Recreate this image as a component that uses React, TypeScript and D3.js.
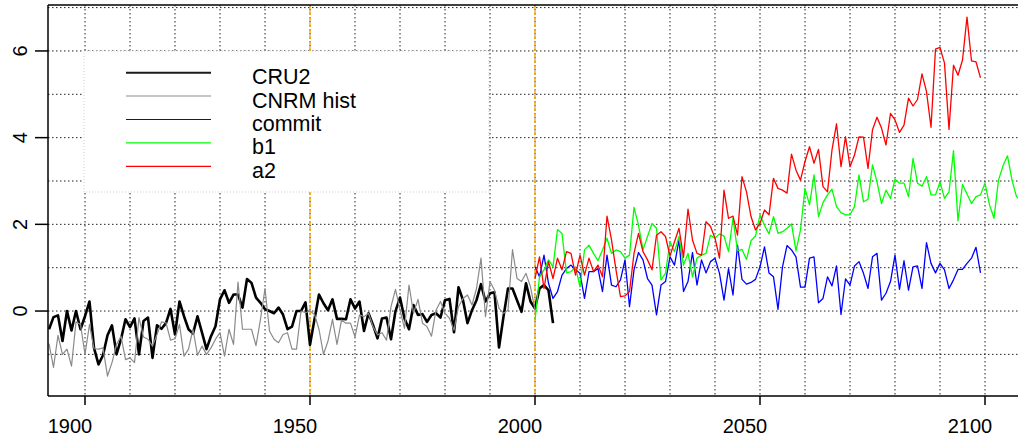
import React from 'react';
import * as d3 from 'd3';

// observed and simulated temperature anomalies, one value per year
const cru2Start = 1892;
const cru2 = [
  -0.42, -0.14, -0.1, -0.69, 0.0, -0.45, 0.0, -0.42, -0.12, 0.22,
  -0.85, -1.23, -1.02, -0.56, -0.33, -1.0, -0.65, -0.19, -0.37, -0.17,
  -1.0, -0.23, -0.15, -1.08, -0.33, -0.41, -0.28, 0.05, -0.54, 0.22,
  -0.12, -0.42, -0.52, -0.12, -0.5, -0.88, -0.58, -0.35, 0.27, 0.48,
  0.19, 0.38, 0.38, 0.08, 0.74, 0.65, 0.31, 0.19, 0.04, 0.0,
  -0.05, 0.08, -0.08, -0.42, -0.36, 0.0, 0.0, 0.2, -0.78, -0.19,
  0.38, 0.18, 0.02, 0.27, -0.18, -0.18, -0.19, 0.27, 0.06, 0.22,
  -0.46, -0.05, -0.32, -0.63, -0.17, -0.15, -0.65, 0.0, 0.31, -0.17,
  -0.42, 0.14, -0.09, -0.07, -0.25, -0.09, -0.05, -0.15, 0.25, 0.28,
  -0.49, 0.55, 0.25, -0.28, 0.02, 0.25, 0.62, 0.22, 0.41, 0.43,
  -0.84, -0.13, 0.52, 0.52, 0.25, -0.02, 0.64, 0.22, 0.06, 0.52,
  0.6, 0.48, -0.28,
];

const cnrmStart = 1892;
const cnrmHist = [
  -0.75, -1.3, -0.56, -1.0, -0.88, -1.27, -0.25, -0.31, -1.0, -0.31,
  -0.87, -0.88, -0.85, -1.5, -1.19, -0.77, -0.58, -1.12, -1.08, -1.19,
  -0.15, -0.6, -0.65, -0.81, -0.54, -0.25, -0.27, -0.67, -0.64, -0.31,
  -1.04, -0.88, -0.42, -1.02, -0.81, -1.0, -0.85, -0.65, -0.5, -1.04,
  -0.42, -0.77, 0.67, -0.42, -0.42, -0.42, -0.8, -0.19, 0.52, -0.46,
  -0.65, -0.73, -0.54, -0.5, -0.88, -0.88, 0.0, -0.04, 0.0, -0.08,
  -0.42, -1.0, -0.69, -0.19, -0.77, -0.21, -0.28, -0.28, -0.6, -0.09,
  -0.13, -0.05, -0.36, -0.55, -0.5, -0.67, 0.1, 0.5, 0.02, -0.4,
  0.6, -0.05, 0.27, -0.28, -0.36, -0.58, 0.02, 0.22, -0.05, -0.17,
  -0.44, 0.1, 0.29, 0.37, 0.14, 0.52, 1.22, -0.13, 0.68, 0.48,
  0.06, -0.05, 0.02, 1.42, 0.75, 0.68, 0.87, 0.56, 0.02,
];

const scenarioStart = 2000;
const commit = [
  1.02, 0.79, 1.29, 0.64, 0.29, 0.45, 0.83, 0.98, 1.06, 0.95,
  0.87, 0.29, 0.91, 0.91, 0.98, 0.45, 1.29, 0.6, 0.56, 0.72,
  1.18, 0.1, 0.95, 1.35, 1.18, 0.75, 0.6, -0.09, 0.6, 0.68,
  1.25, 1.06, 1.64, 0.45, 0.68, 1.35, 0.6, 1.18, 0.88, 1.14,
  1.22, 0.87, 0.25, 0.98, 0.37, 1.52, 0.73, 0.62, 0.66, 0.73,
  1.02, 1.48, 0.88, 0.79, 0.04, 1.02, 1.51, 1.41, 1.25, 0.55,
  0.55, 1.22, 1.25, 0.19, 0.29, 0.79, 0.58, 1.04, -0.08, 0.74,
  0.6, 1.04, 1.14, 0.87, 0.52, 1.25, 1.33, 0.25, 0.41, 0.68,
  1.29, 0.5, 1.16, 0.48, 1.02, 1.04, 0.52, 1.58, 1.1, 0.88,
  1.1, 0.95, 0.52, 0.72, 0.96, 0.96, 1.1, 1.22, 1.47, 0.88,
];

const b1 = [
  -0.21, 0.79, 0.95, 1.18, 1.02, 1.88, 1.79, 0.88, 0.91, 1.02,
  0.56, 1.41, 1.52, 1.33, 1.16, 1.41, 1.68, 1.33, 1.41, 1.37,
  1.22, 1.29, 2.39, 1.98, 1.41, 1.72, 2.02, 1.91, 0.72, 0.87,
  1.6, 1.37, 1.72, 1.06, 1.33, 0.79, 1.22, 1.29, 1.33, 1.75,
  1.68, 1.78, 1.73, 1.37, 2.14, 1.39, 1.42, 1.19, 1.62, 1.73,
  2.22, 1.98, 1.78, 2.18, 1.79, 1.83, 1.91, 2.01, 1.39, 1.87,
  2.83, 2.45, 3.14, 2.18, 2.5, 2.68, 2.81, 2.41, 2.27, 2.22,
  2.22, 2.41, 3.14, 2.52, 2.58, 3.37, 2.98, 2.48, 2.79, 2.6,
  3.04, 2.95, 2.95, 2.64, 3.52, 2.95, 2.88, 3.1, 2.68, 2.68,
  2.98, 2.6, 2.75, 3.7, 2.08, 2.92, 2.7, 2.48, 2.64, 2.68,
  2.95, 2.45, 2.14, 3.02, 3.35, 3.58, 3.02, 2.64, 2.55,
];

const a2 = [
  0.75, 1.25, 0.52, 1.14, 0.75, 1.22, 0.95, 1.37, 1.33, 0.83,
  1.29, 0.83, 1.22, 0.91, 1.06, 0.79, 2.19, 1.64, 0.95, 0.33,
  0.35, 0.45, 1.33, 1.79, 1.37, 1.18, 0.95, 1.75, 1.83, 1.72,
  1.27, 1.6, 1.91, 1.24, 2.35, 1.64, 1.33, 1.29, 2.06, 1.95,
  1.68, 1.22, 2.79, 2.14, 2.19, 1.75, 3.1, 2.75, 2.18, 1.87,
  2.02, 2.33, 2.22, 3.06, 2.83, 2.79, 2.72, 3.62, 3.25, 3.02,
  3.45, 3.79, 3.41, 3.73, 2.87, 2.75, 3.72, 4.32, 3.33, 4.02,
  3.33, 3.6, 4.02, 4.01, 3.29, 4.18, 4.47, 4.22, 3.83, 4.56,
  4.41, 4.12, 4.29, 4.91, 4.73, 4.88, 5.47, 5.06, 4.24, 6.04,
  6.08, 5.72, 4.19, 5.67, 5.44, 5.79, 6.78, 5.77, 5.75, 5.38,
];

const xTicks = [1900, 1950, 2000, 2050, 2100];
const yTicks = [0, 2, 4, 6];
const markerYears = [1950, 2000];

const series = [
  { name: 'CRU2', start: cru2Start, values: cru2, color: '#000000', width: 2.6, legendColor: '#1a1a1a', legendWidth: 2 },
  { name: 'CNRM hist', start: cnrmStart, values: cnrmHist, color: '#8a8a8a', width: 1.2, legendColor: '#b0b0b0', legendWidth: 1.5 },
  { name: 'commit', start: scenarioStart, values: commit, color: '#0000ff', width: 1.3, legendColor: '#0000ff', legendWidth: 1.2 },
  { name: 'b1', start: scenarioStart, values: b1, color: '#00ff00', width: 1.3, legendColor: '#00ff00', legendWidth: 1.2 },
  { name: 'a2', start: scenarioStart, values: a2, color: '#ff0000', width: 1.3, legendColor: '#ff0000', legendWidth: 1.2 },
];

const W = 1018;
const H = 441;
const left = 48, right = 1021, top = 5, bottom = 396;
const font = '"Liberation Sans", Arial, Helvetica, sans-serif';

export default function App() {
  const x = d3.scaleLinear().domain([1892, 2108]).range([left + 1, right]);
  const y = d3.scaleLinear().domain([-1.96, 7.06]).range([bottom, top]);

  const line = d3.line<[number, number]>()
    .x(d => x(d[0]))
    .y(d => y(d[1]));

  const gridX = d3.range(1900, 2101, 10);
  const gridY = d3.range(-1, 8, 1);

  // legend layout
  const lg = { x0: 84, y0: 51, w: 405, h: 141, lineX1: 126, lineX2: 211, textX: 252, firstY: 72.7, step: 23.4 };

  return (
    <svg width={W} height={H} style={{ position: 'absolute', left: 0, top: 0, background: '#fff' }}>
      <defs>
        <clipPath id="plot">
          <rect x={left} y={top} width={right - left} height={bottom - top} />
        </clipPath>
      </defs>

      <g stroke="#222" strokeWidth={1} strokeDasharray="1.5,2.5">
        {gridX.map(g => (
          <line key={'gx' + g} x1={x(g)} x2={x(g)} y1={top} y2={bottom} />
        ))}
        {gridY.map(g => (
          <line key={'gy' + g} x1={left} x2={right} y1={y(g)} y2={y(g)} />
        ))}
      </g>

      <g stroke="#ffa500" strokeWidth={1.4} strokeDasharray="4,2">
        {markerYears.map(m => (
          <line key={'m' + m} x1={x(m)} x2={x(m)} y1={top} y2={bottom} />
        ))}
      </g>

      <g clipPath="url(#plot)" fill="none" strokeLinejoin="round">
        {series.map(s => (
          <path
            key={s.name}
            d={line(s.values.map((v, i) => [s.start + i, v] as [number, number])) || ''}
            stroke={s.color}
            strokeWidth={s.width}
          />
        ))}
      </g>

      <rect x={lg.x0} y={lg.y0} width={lg.w} height={lg.h} fill="#fff" stroke="#cfcfcf" strokeWidth={1} strokeDasharray="1,2" />
      {series.map((s, i) => {
        const ly = lg.firstY + i * lg.step;
        return (
          <g key={'lg' + s.name}>
            <line x1={lg.lineX1} x2={lg.lineX2} y1={ly} y2={ly} stroke={s.legendColor} strokeWidth={s.legendWidth} />
            <text x={lg.textX} y={ly + 11.5} fontFamily={font} fontSize={21.5} fill="#000">{s.name}</text>
          </g>
        );
      })}

      <g stroke="#000" strokeWidth={1.5} fill="none">
        <line x1={left} x2={left} y1={top} y2={bottom} />
        <line x1={left} x2={right} y1={bottom} y2={bottom} />
        <line x1={left} x2={right} y1={top} y2={top} />
        {xTicks.map(t => (
          <line key={'xt' + t} x1={x(t)} x2={x(t)} y1={bottom} y2={bottom + 9} />
        ))}
        {yTicks.map(t => (
          <line key={'yt' + t} x1={left - 13} x2={left} y1={y(t)} y2={y(t)} />
        ))}
      </g>

      <g fontFamily={font} fontSize={20} fill="#000">
        {xTicks.map(t => (
          <text key={'xl' + t} x={x(t) - 15} y={432.5} textAnchor="middle">{t}</text>
        ))}
        {yTicks.map(t => (
          <text key={'yl' + t} transform={`translate(26.5,${y(t)}) rotate(-90)`} textAnchor="middle">{t}</text>
        ))}
      </g>
    </svg>
  );
}
